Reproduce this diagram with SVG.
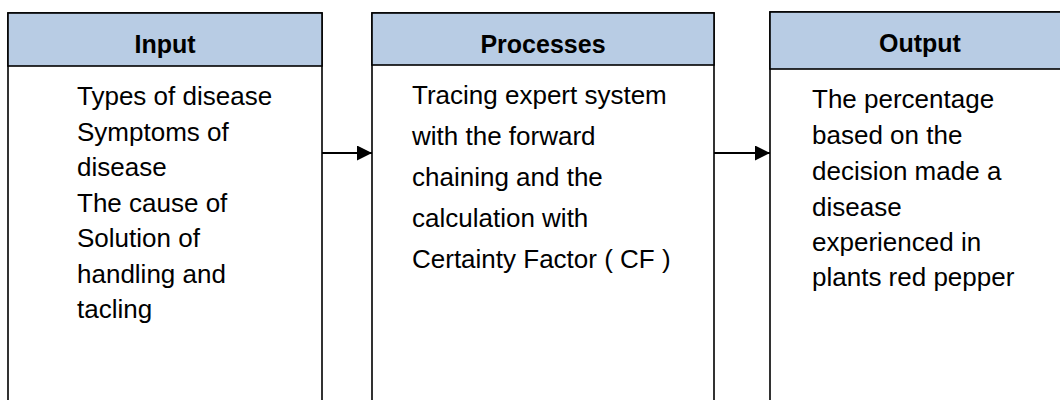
<svg xmlns="http://www.w3.org/2000/svg" width="1060" height="400" viewBox="0 0 1060 400">
<style>
.box{fill:#ffffff;stroke:#000;stroke-width:1.6}
.hdr{fill:#b8cce4;stroke:#000;stroke-width:1.6}
.ht{font-family:"Liberation Sans",Arial,sans-serif;font-weight:bold;font-size:25px;fill:#000;text-anchor:middle}
.bt{font-family:"Liberation Sans",Arial,sans-serif;font-size:26px;fill:#000}
.conn{stroke:#000;stroke-width:2.2;fill:none}
</style>
<defs>
<marker id="ah" markerWidth="16" markerHeight="16" refX="15" refY="7.5" orient="auto" markerUnits="userSpaceOnUse">
<path d="M0,0 L15,7.5 L0,15 Z" fill="#000"/>
</marker>
</defs>
<rect width="1060" height="400" fill="#ffffff"/>
<g id="input">
<rect class="box" x="8" y="13" width="314" height="400"/>
<rect class="hdr" x="8" y="13" width="314" height="53"/>
<text class="ht" x="165" y="53">Input</text>
<text class="bt" x="77" y="105">Types of disease</text>
<text class="bt" x="77" y="140.5">Symptoms of</text>
<text class="bt" x="77" y="176">disease</text>
<text class="bt" x="77" y="211.5">The cause of</text>
<text class="bt" x="77" y="247">Solution of</text>
<text class="bt" x="77" y="282.5">handling and</text>
<text class="bt" x="77" y="318">tacling</text>
</g>
<g id="processes">
<rect class="box" x="372" y="13" width="342" height="400"/>
<rect class="hdr" x="372" y="13" width="342" height="52"/>
<text class="ht" x="543" y="53">Processes</text>
<text class="bt" x="412" y="104">Tracing expert system</text>
<text class="bt" x="412" y="145">with the forward</text>
<text class="bt" x="412" y="186">chaining and the</text>
<text class="bt" x="412" y="227">calculation with</text>
<text class="bt" x="412" y="268">Certainty Factor ( CF )</text>
</g>
<g id="output">
<rect class="box" x="770" y="12" width="300" height="400"/>
<rect class="hdr" x="770" y="12" width="300" height="57"/>
<text class="ht" x="920" y="52">Output</text>
<text class="bt" x="812" y="108">The percentage</text>
<text class="bt" x="812" y="144">based on the</text>
<text class="bt" x="812" y="180">decision made a</text>
<text class="bt" x="812" y="216">disease</text>
<text class="bt" x="812" y="251">experienced in</text>
<text class="bt" x="812" y="286">plants red pepper</text>
</g>
<g id="connectors">
<line class="conn" x1="322" y1="153" x2="372" y2="153" marker-end="url(#ah)"/>
<line class="conn" x1="714" y1="153" x2="770" y2="153" marker-end="url(#ah)"/>
</g>
</svg>
